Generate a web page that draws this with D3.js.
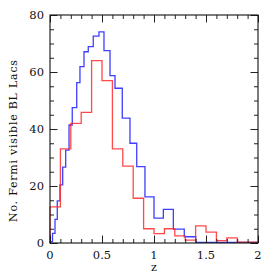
<!DOCTYPE html>
<html>
<head>
<meta charset="utf-8">
<script src="https://cdn.jsdelivr.net/npm/d3@7"></script>
<style>
  body { margin: 0; background: #fff; }
  svg text { font-family: "DejaVu Serif", "Liberation Serif", serif; fill: #111; }
</style>
</head>
<body>
<svg width="273" height="273"></svg>
<script>
// blue histogram: bin edges in z and counts per bin
var blueEdges = [0.0, 0.024, 0.048, 0.070, 0.096, 0.122, 0.151, 0.183, 0.214, 0.257, 0.288,
  0.327, 0.368, 0.416, 0.471, 0.519, 0.577, 0.625, 0.695, 0.769, 0.834, 0.913,
  1.0, 1.09, 1.186, 1.291, 1.401, 2.0];
var blueCounts = [0.5, 3.4, 8.3, 14.8, 20.4, 26.6, 32.6, 41.4, 47.5, 56.3, 61.9,
  67.1, 68.9, 72.6, 74.1, 67.5, 58.7, 54.3, 43.8, 35.0, 26.8,
  16.2, 8.7, 11.8, 4.9, 2.2, 0.2];

// red histogram: 0.1 wide bins
var redEdges = [0.0, 0.1, 0.2, 0.3, 0.4, 0.5, 0.6, 0.7, 0.8, 0.9, 1.0,
  1.1, 1.2, 1.3, 1.4, 1.5, 1.6, 1.7, 1.8, 1.9, 2.0];
var redCounts = [12.7, 33.0, 42.0, 45.8, 64.0, 57.0, 33.0, 27.0, 15.7, 5.0,
  3.3, 5.0, 2.5, 1.0, 6.0, 3.8, 0.8, 1.8, 0.3, 0.3];

var xMajor = [0, 0.5, 1, 1.5, 2];
var xMajorLabels = ["0", "0.5", "1", "1.5", "2"];
var yMajor = [0, 20, 40, 60, 80];

var svg = d3.select("svg");
var mLeft = 50, mRight = 258, mTop = 15, mBottom = 243;

var x = d3.scaleLinear().domain([0, 2]).range([mLeft, mRight]);
var y = d3.scaleLinear().domain([0, 80]).range([mBottom, mTop]);

// turn edges + counts into step points
function stepPoints(edges, counts) {
  var pts = [[edges[0], 0]];
  for (var i = 0; i < counts.length; i++) {
    pts.push([edges[i], counts[i]]);
    pts.push([edges[i + 1], counts[i]]);
  }
  pts.push([edges[edges.length - 1], 0]);
  return pts;
}

var line = d3.line()
  .x(function (d) { return x(d[0]); })
  .y(function (d) { return y(d[1]); });

svg.append("path")
  .attr("d", line(stepPoints(blueEdges, blueCounts)))
  .attr("fill", "none")
  .attr("stroke", "#2a2aff")
  .attr("stroke-width", 1.3)
  .attr("stroke-opacity", 0.9);

svg.append("path")
  .attr("d", line(stepPoints(redEdges, redCounts)))
  .attr("fill", "none")
  .attr("stroke", "#ff2a2a")
  .attr("stroke-width", 1.3)
  .attr("stroke-opacity", 0.85);

// axes with inward ticks on all four sides
var xMinor = x.ticks(20), yMinor = y.ticks(16);

function tickSize(v, majors) { return majors.indexOf(+v.toFixed(3)) >= 0 ? 7.5 : 4; }

var gB = svg.append("g").attr("transform", "translate(0," + mBottom + ")").call(d3.axisBottom(x).tickValues(xMinor).tickFormat("").tickSizeOuter(0));
var gT = svg.append("g").attr("transform", "translate(0," + mTop + ")").call(d3.axisTop(x).tickValues(xMinor).tickFormat("").tickSizeOuter(0));
var gL = svg.append("g").attr("transform", "translate(" + mLeft + ",0)").call(d3.axisLeft(y).tickValues(yMinor).tickFormat("").tickSizeOuter(0));
var gR = svg.append("g").attr("transform", "translate(" + mRight + ",0)").call(d3.axisRight(y).tickValues(yMinor).tickFormat("").tickSizeOuter(0));

// make ticks point inside
gB.selectAll(".tick line").attr("y2", function (d) { return -tickSize(d, xMajor); });
gT.selectAll(".tick line").attr("y2", function (d) { return tickSize(d, xMajor); });
gL.selectAll(".tick line").attr("x2", function (d) { return tickSize(d, yMajor); });
gR.selectAll(".tick line").attr("x2", function (d) { return -tickSize(d, yMajor); });

svg.selectAll(".domain").remove();
svg.selectAll(".tick line").attr("stroke", "#222").attr("stroke-width", 1);

svg.append("rect")
  .attr("x", mLeft).attr("y", mTop)
  .attr("width", mRight - mLeft).attr("height", mBottom - mTop)
  .attr("fill", "none").attr("stroke", "#111").attr("stroke-width", 1.1);

// tick labels
svg.selectAll(".xlab").data(xMajor).enter().append("text")
  .attr("x", function (d) { return x(d); })
  .attr("y", 258.5)
  .attr("text-anchor", "middle")
  .attr("font-size", 11.5)
  .text(function (d, i) { return xMajorLabels[i]; });

svg.selectAll(".ylab").data(yMajor).enter().append("text")
  .attr("x", 44)
  .attr("y", function (d) { return y(d) + 4; })
  .attr("text-anchor", "end")
  .attr("font-size", 11.5)
  .text(function (d) { return d; });

svg.append("text")
  .attr("x", 154).attr("y", 271)
  .attr("text-anchor", "middle")
  .attr("font-size", 11)
  .text("z");

svg.append("text")
  .attr("transform", "translate(17,141) rotate(-90)")
  .attr("text-anchor", "middle")
  .attr("font-size", 11)
  .attr("textLength", 162)
  .attr("lengthAdjust", "spacing")
  .text("No. Fermi visible BL Lacs");
</script>
</body>
</html>
